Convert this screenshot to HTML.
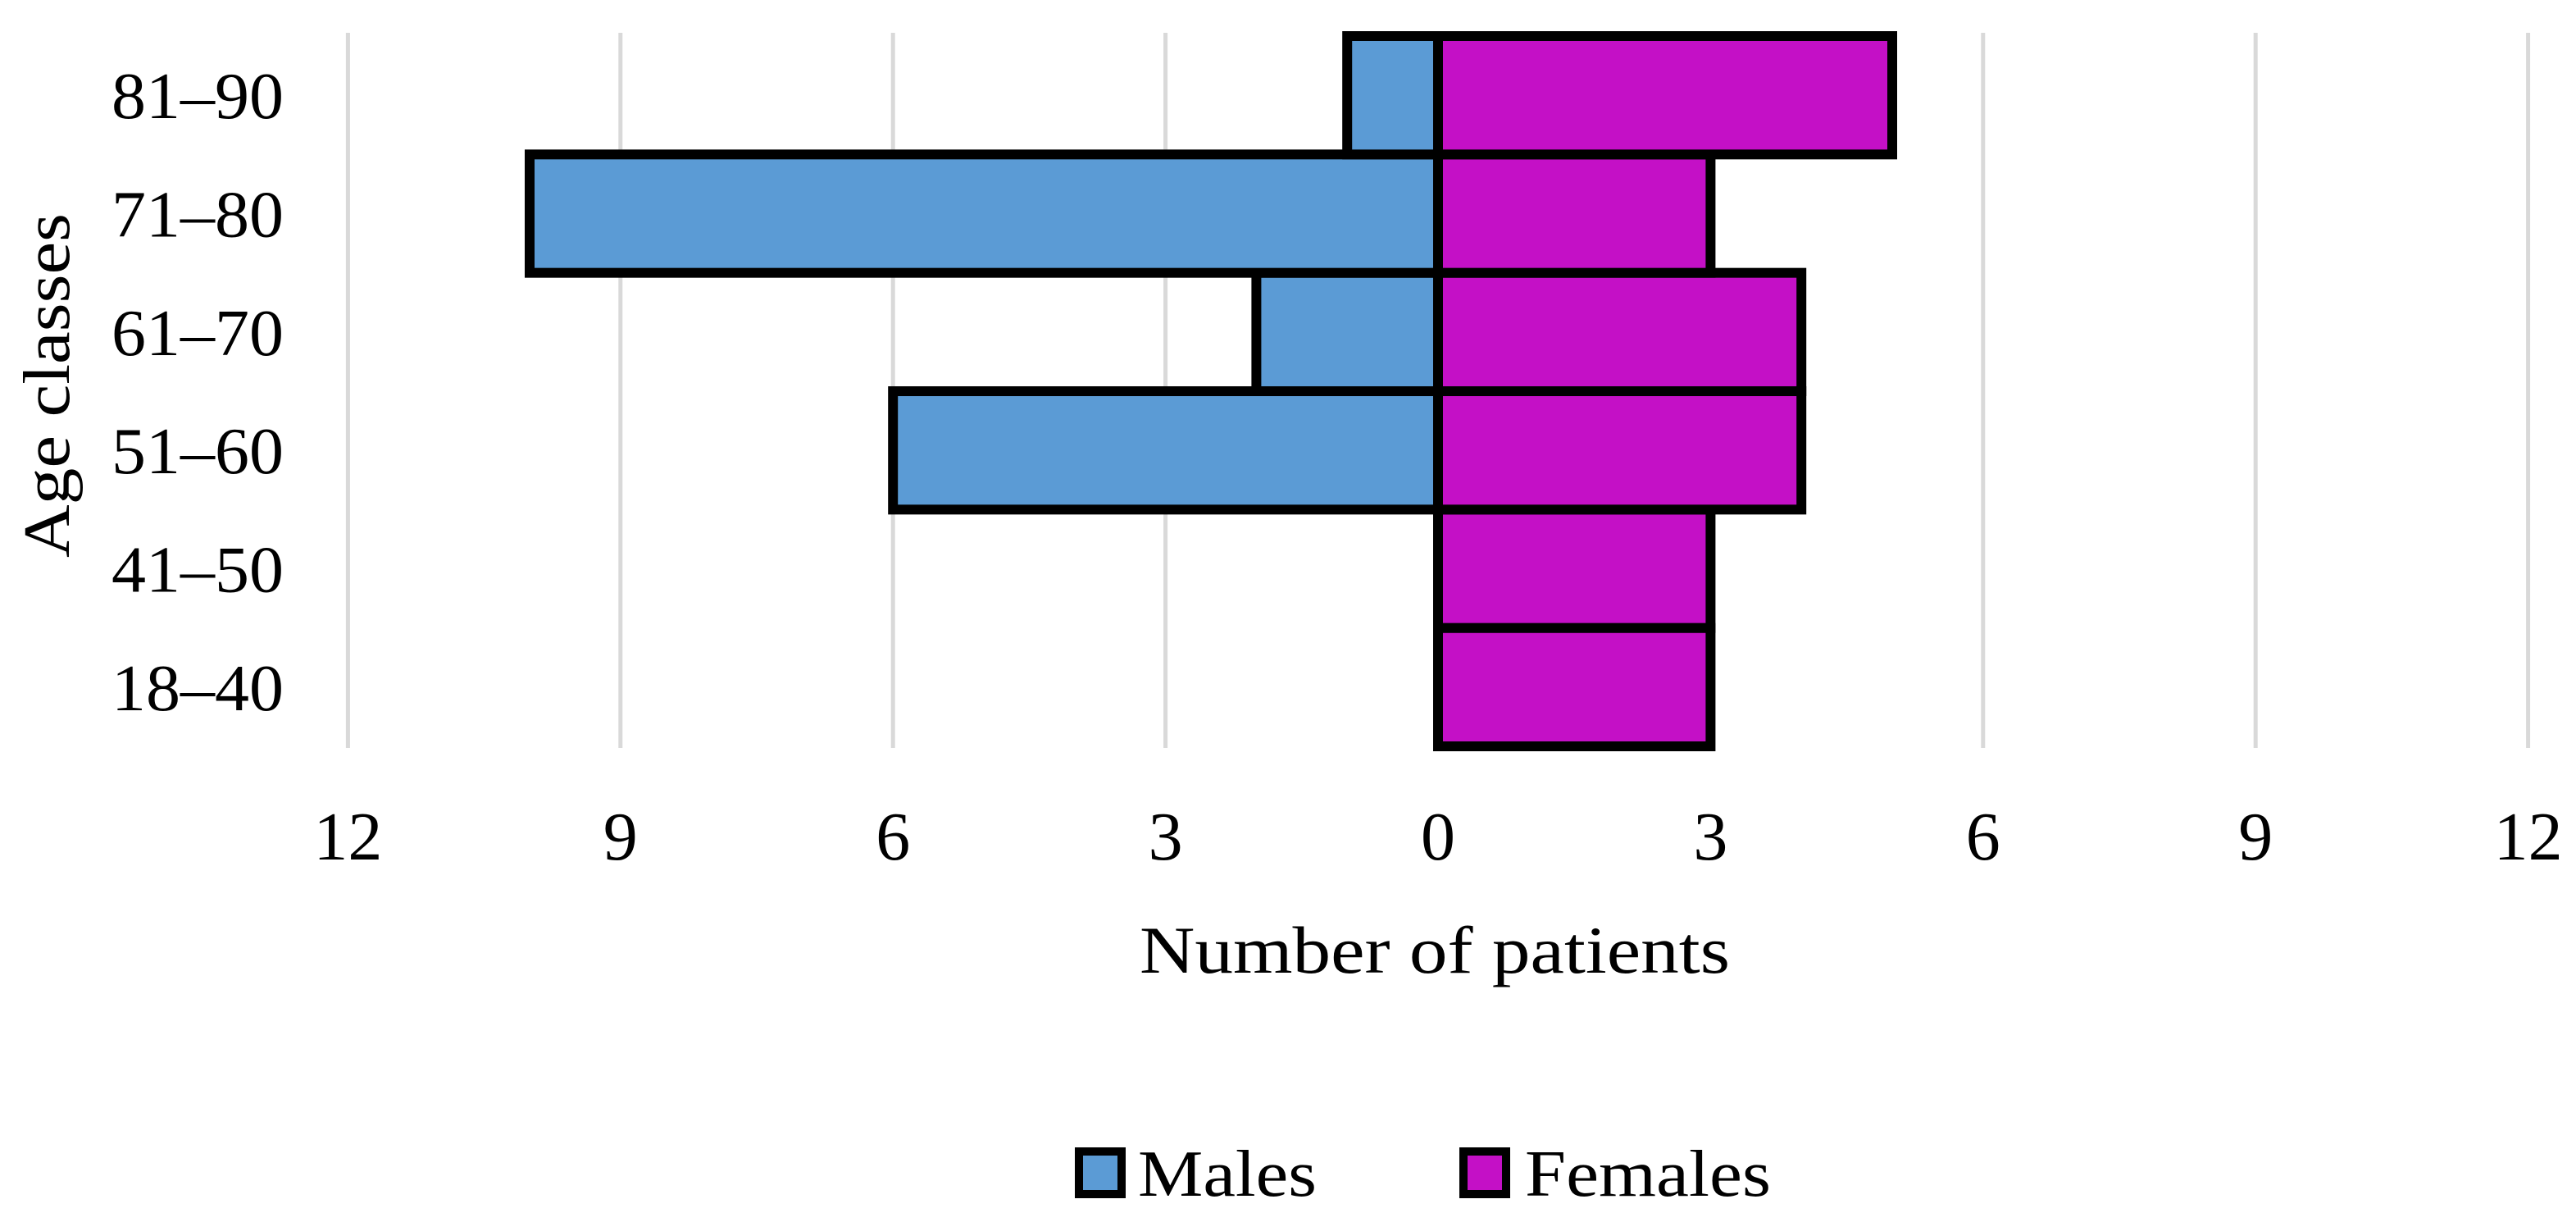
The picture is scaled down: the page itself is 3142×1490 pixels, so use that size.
<!DOCTYPE html>
<html><head><meta charset="utf-8"><style>
html,body{margin:0;padding:0;background:#fff;}
svg{display:block;font-family:"Liberation Serif",serif;}
</style></head><body>
<svg id="chart" width="3142" height="1490" viewBox="0 0 3142 1490" xmlns="http://www.w3.org/2000/svg">
<g id="grid"></g>
<g id="bars"></g>
<g id="yticks"></g>
<g id="xticks"></g>
<text x="1390" y="1186" font-size="82" textLength="720" lengthAdjust="spacingAndGlyphs">Number of patients</text>
<text transform="translate(84,470) rotate(-90)" text-anchor="middle" font-size="80" textLength="420" lengthAdjust="spacingAndGlyphs">Age classes</text>
<g>
<rect x="1316" y="1404" width="52" height="52" fill="#5B9BD5" stroke="#000" stroke-width="10"/>
<text x="1388" y="1458" font-size="80" textLength="218" lengthAdjust="spacingAndGlyphs">Males</text>
<rect x="1785" y="1404" width="52" height="52" fill="#C410C6" stroke="#000" stroke-width="10"/>
<text x="1860" y="1458" font-size="80" textLength="300" lengthAdjust="spacingAndGlyphs">Females</text>
</g>
</svg>
<script>
const categories = ["18–40","41–50","51–60","61–70","71–80","81–90"];
const males = [0,0,6,2,10,1];
const females = [3,3,4,4,3,5];
const xTicks = [-12,-9,-6,-3,0,3,6,9,12];
const xTickLabels = ["12","9","6","3","0","3","6","9","12"];

const NS = "http://www.w3.org/2000/svg";
const x0 = 1754, unit = 110.8;
const plotTop = 44, plotBottom = 910;
const band = (plotBottom - plotTop) / categories.length;
function xScale(v){ return x0 + v * unit; }
function yBand(i){ return plotBottom - (i + 1) * band; }

const grid = document.getElementById('grid');
xTicks.forEach((t,i)=>{
  if (t === 0) return;
  const l = document.createElementNS(NS,'line');
  
  
  l.setAttribute('x1', xScale(t)); l.setAttribute('x2', xScale(t));
  l.setAttribute('y1', 40); l.setAttribute('y2', 912);
  l.setAttribute('stroke', '#d9d9d9'); l.setAttribute('stroke-width', 5);
  grid.appendChild(l);
});
const xt = document.getElementById('xticks');
xTicks.forEach((t,i)=>{
  const tx = document.createElementNS(NS,'text');
  
  
  tx.setAttribute('x', xScale(t)); tx.setAttribute('y', 1048);
  tx.setAttribute('text-anchor', 'middle'); tx.setAttribute('font-size', 84);
  tx.textContent = xTickLabels[i];
  xt.appendChild(tx);
});
const bars = document.getElementById('bars');
function addBar(v, i, color, name){
  if (v === 0) return;
  const r = document.createElementNS(NS,'rect');
  
  
  const a = xScale(0), b = xScale(v);
  r.setAttribute('x', Math.min(a,b)); r.setAttribute('width', Math.abs(b-a));
  r.setAttribute('y', yBand(i)); r.setAttribute('height', band);
  r.setAttribute('fill', color); r.setAttribute('stroke', '#000'); r.setAttribute('stroke-width', 12);
  bars.appendChild(r);
}
categories.forEach((c,i)=>{ addBar(-males[i], i, '#5B9BD5', 'bar-males'); });
categories.forEach((c,i)=>{ addBar(females[i], i, '#C410C6', 'bar-females'); });
const yt = document.getElementById('yticks');
categories.forEach((c,i)=>{
  const tx = document.createElementNS(NS,'text');
  
  
  tx.setAttribute('x', 346); tx.setAttribute('y', yBand(i) + band/2 + 28);
  tx.setAttribute('text-anchor', 'end'); tx.setAttribute('font-size', 80);
  tx.setAttribute('textLength', 210); tx.setAttribute('lengthAdjust', 'spacingAndGlyphs');
  tx.textContent = c;
  yt.appendChild(tx);
});
</script>
</body></html>
